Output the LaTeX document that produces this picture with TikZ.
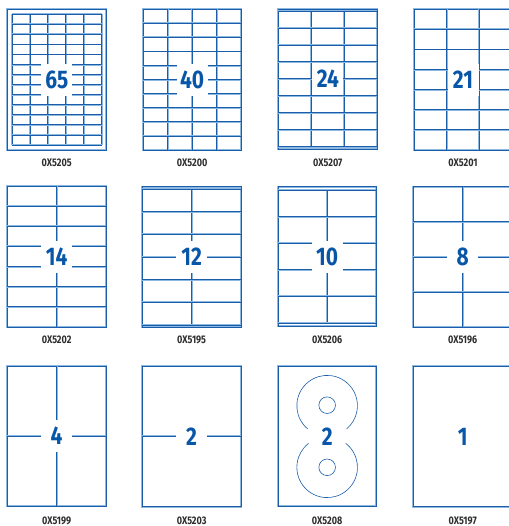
\documentclass[tikz,border=0pt]{standalone}
\usepackage{fontspec}
\newfontfamily\numfont[FakeStretch=0.82]{Fira Sans}
\usepackage{tikz}
\definecolor{Lineblue}{RGB}{26,94,170}
\definecolor{Haloblue}{RGB}{140,184,226}
\definecolor{Numblue}{RGB}{8,86,168}
\definecolor{Codegray}{RGB}{45,45,45}

\begin{document}
\begin{tikzpicture}[
  x=1pt, y=-1pt,
  frm/.style ={draw=Lineblue, line width=0.9pt,
               preaction={draw=Haloblue, line width=2pt}},
  cut/.style ={draw=Lineblue, line width=0.8pt,
               preaction={draw=Haloblue, line width=1.9pt}},
  disc/.style={draw=Lineblue, line width=0.6pt},
  num/.style ={rectangle, fill=white, inner sep=0pt,
               minimum width=31pt, minimum height=32pt,
               font=\numfont\bfseries\fontsize{25.5}{25}\selectfont, text=Numblue},
  code/.style={font=\numfont\bfseries\fontsize{11}{12}\selectfont, text=Codegray},
]
\useasboundingbox (0,0) rectangle (508,526);

%% ═══════════════ Fila 1 ═══════════════
% 65 etiquetas (5 x 13)
\draw[frm] (7.3,9.3) rectangle (106,150);
\foreach \i in {0,...,5} \draw[cut] ({12+17.94*\i},14.3) -- ++(0,130.7);
\foreach \j in {0,...,13} \draw[cut] (12,{14.3+10.054*\j}) -- ++(89.7,0);
\node[num]  (N65) at (56.85,79.65) {65};
\node[code] (C65) at (56.65,162.5) {0X5205};

% 40 etiquetas (4 x 10)
\draw[frm] (143.3,9.3) rectangle (241,150);
\foreach \i in {1,...,3} \draw[cut] ({143.3+24.43*\i},9.3) -- ++(0,140.7);
\foreach \j in {1,...,9} \draw[cut] (143.3,{9.3+14.07*\j}) -- ++(97.7,0);
\node[num]  (N40) at (192.15,79.65) {40};
\node[code] (C40) at (192.15,162.5) {0X5200};

% 24 etiquetas (3 x 8)
\draw[frm] (278.3,9.3) rectangle (377.3,149.3);
\foreach \i in {1,2} \draw[cut] ({278.3+33*\i},11) -- ++(0,135.7);
\foreach \j in {0,...,8} \draw[cut] (278.3,{11+16.96*\j}) -- ++(99,0);
\node[num]  (N24) at (327.8,78.85) {24};
\node[code] (C24) at (327.8,162.5) {0X5207};

% 21 etiquetas (3 x 7)
\draw[frm] (414,9.3) rectangle (512,150);
\foreach \i in {1,2} \draw[cut] ({414+32.67*\i},9.3) -- ++(0,140.7);
\foreach \j in {1,...,6} \draw[cut] (414,{9.3+20.1*\j}) -- ++(98,0);
\node[num]  (N21) at (463,79.65) {21};
\node[code] (C21) at (463,162.5) {0X5201};

%% ═══════════════ Fila 2 ═══════════════
% 14 etiquetas (2 x 7)
\draw[frm] (7.3,186) rectangle (106,327);
\draw[cut] (56.65,186) -- (56.65,327);
\foreach \j in {1,...,6} \draw[cut] (7.3,{186+20.14*\j}) -- ++(98.7,0);
\node[num]  (N14) at (56.65,256.5) {14};
\node[code] (C14) at (56.65,339.5) {0X5202};

% 12 etiquetas (2 x 6)
\draw[frm] (142.3,186.7) rectangle (241,327.3);
\draw[cut] (191.65,189) -- (191.65,325);
\foreach \j in {0,...,6} \draw[cut] (142.3,{189+22.67*\j}) -- ++(98.7,0);
\node[num]  (N12) at (191.65,257) {12};
\node[code] (C12) at (191.65,339.5) {0X5195};

% 10 etiquetas (2 x 5)
\draw[frm] (278.3,186.7) rectangle (376,326.3);
\draw[cut] (327.15,190) -- (327.15,323);
\foreach \j in {0,...,5} \draw[cut] (278.3,{190+26.6*\j}) -- ++(97.7,0);
\node[num]  (N10) at (327.15,256.5) {10};
\node[code] (C10) at (327.15,339.5) {0X5206};

% 8 etiquetas (2 x 4)
\draw[frm] (413.3,186.7) rectangle (512,327.3);
\draw[cut] (462.7,186.7) -- (462.7,327.3);
\foreach \j in {1,...,3} \draw[cut] (413.3,{186.7+35.15*\j}) -- ++(98.7,0);
\node[num]  (N8) at (462.7,257) {8};
\node[code] (C8) at (462.7,339.5) {0X5196};

%% ═══════════════ Fila 3 ═══════════════
% 4 etiquetas
\draw[frm] (7.3,366) rectangle (106,506);
\draw[cut] (56.65,366) -- (56.65,506);
\draw[cut] (7.3,436) -- (106,436);
\node[num]  (N4) at (56.65,436) {4};
\node[code] (C4) at (56.65,520.5) {0X5199};

% 2 etiquetas
\draw[frm] (142.3,366) rectangle (241,506.7);
\draw[cut] (142.3,436.3) -- (241,436.3);
\node[num]  (N2) at (191.65,436.3) {2};
\node[code] (C2) at (191.65,520.5) {0X5203};

% 2 CD
\draw[frm] (278.3,366) rectangle (376,506);
\draw[disc] (327.15,405.7) ++(130:30.3) arc[start angle=130, end angle=410, radius=30.3];
\draw[disc] (327.15,467.3) ++(-52:30.3) arc[start angle=-52, end angle=232, radius=30.3];
\draw[disc] (327.15,405.2) circle (8.3);
\draw[disc] (327.15,467.3) circle (8.3);
\node[num, fill=none] (NCD) at (327.15,436.5) {2};
\node[code] (CCD) at (327.15,520.5) {0X5208};

% 1 etiqueta
\draw[frm] (413.3,366) rectangle (512,506.7);
\node[num, fill=none] (N1) at (462.7,437) {1};
\node[code] (C1) at (462.7,520.5) {0X5197};

\end{tikzpicture}
\end{document}
